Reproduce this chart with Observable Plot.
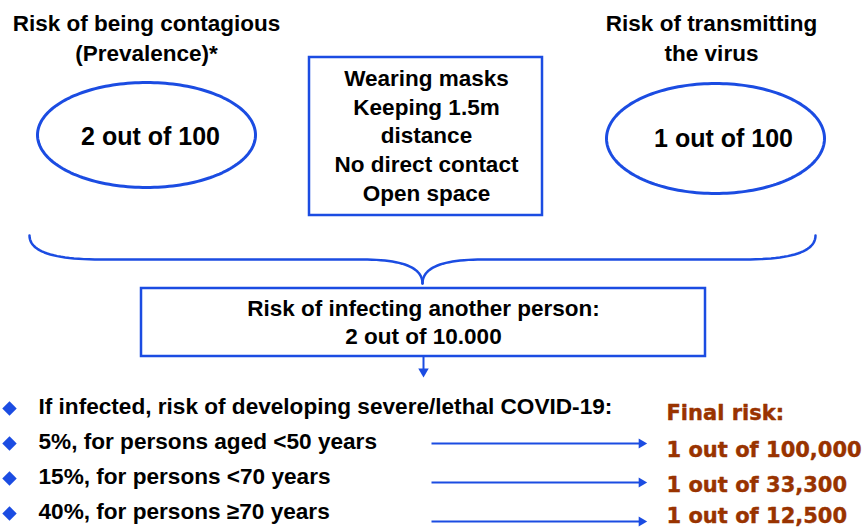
<!DOCTYPE html>
<html>
<head>
<meta charset="utf-8">
<script src="https://cdn.jsdelivr.net/npm/d3@7"></script>
<script src="https://cdn.jsdelivr.net/npm/@observablehq/plot@0.6"></script>
<style>
  html, body { margin: 0; padding: 0; background: #fff; }
  #chart svg { display: block; }
</style>
</head>
<body>
<div id="chart"></div>
<script>
// ---- content (text & values) ----
const titleLeft = ["Risk of being contagious", "(Prevalence)*"];
const titleRight = ["Risk of transmitting", "the virus"];
const prevalence = "2 out of 100";
const transmission = "1 out of 100";
const measures = ["Wearing masks", "Keeping 1.5m", "distance", "No direct contact", "Open space"];
const infecting = ["Risk of infecting another person:", "2 out of 10.000"];
const severity = [
  "If infected, risk of developing severe/lethal COVID-19:",
  "5%, for persons aged <50 years",
  "15%, for persons <70 years",
  "40%, for persons ≥70 years"
];
const finalLabel = "Final risk:";
const finalRisk = ["1 out of 100,000", "1 out of 33,300", "1 out of 12,500"];

// ---- layout ----
const W = 866, H = 528;
const BLUE = "#1b4ce2";
const BROWN = "#993300";
const SANS = "Liberation Sans, Arial, Helvetica, sans-serif";

function ellipse(cx, cy, rx, ry) {
  return d3.range(0, 360, 2).map(a => {
    const t = a * Math.PI / 180;
    return {x: cx + rx * Math.cos(t), y: cy + ry * Math.sin(t)};
  });
}
function quad(p0, c, p1, n = 24) {
  return d3.range(n + 1).map(i => {
    const t = i / n, u = 1 - t;
    return {x: u*u*p0[0] + 2*u*t*c[0] + t*t*p1[0], y: u*u*p0[1] + 2*u*t*c[1] + t*t*p1[1]};
  });
}
const braceLeft = [
  ...quad([29, 235], [29, 259], [100, 259]),
  ...quad([362, 259], [422, 259], [422, 283])
];
const braceRight = braceLeft.map(p => ({x: 844 - p.x, y: p.y}));

const centerText = [
  ...titleLeft.map((t, i) => ({t, x: 146, y: 23 + i * 30})),
  ...titleRight.map((t, i) => ({t, x: 711, y: 23 + i * 30})),
  ...measures.map((t, i) => ({t, x: 426, y: 78 + i * 28.8})),
  ...infecting.map((t, i) => ({t, x: 423, y: 308 + i * 28}))
];
const bigText = [
  {t: prevalence, x: 150, y: 136},
  {t: transmission, x: 723, y: 138}
];
const severityRows = severity.map((t, i) => ({t, x: 38, y: 406 + i * 35, bx: 9, by: 408 + i * 35}));
const finalRows = [finalLabel, ...finalRisk].map((t, i) => ({t, x: 666, y: [413, 450, 485, 516][i]}));
const arrowRows = finalRisk.map((t, i) => ({x1: 431, x2: 641, y: [443, 482, 521][i]}));

const plot = Plot.plot({
  width: W, height: H,
  margin: 0,
  x: {domain: [0, W], axis: null},
  y: {domain: [0, H], reverse: true, axis: null},
  style: {background: "#fff", overflow: "visible"},
  marks: [
    // ellipses
    Plot.line(ellipse(146, 134.5, 109, 52.5), {x: "x", y: "y", curve: "linear-closed", stroke: BLUE, strokeWidth: 3}),
    Plot.line(ellipse(715, 138, 109, 55), {x: "x", y: "y", curve: "linear-closed", stroke: BLUE, strokeWidth: 3}),
    // boxes
    Plot.rect([{x1: 309, x2: 542, y1: 57, y2: 215}], {x1: "x1", x2: "x2", y1: "y1", y2: "y2", fill: "none", stroke: BLUE, strokeWidth: 2.5}),
    Plot.rect([{x1: 141, x2: 705, y1: 288, y2: 356}], {x1: "x1", x2: "x2", y1: "y1", y2: "y2", fill: "none", stroke: BLUE, strokeWidth: 2.5}),
    // brace
    Plot.line(braceLeft, {x: "x", y: "y", stroke: BLUE, strokeWidth: 2.5}),
    Plot.line(braceRight, {x: "x", y: "y", stroke: BLUE, strokeWidth: 2.5}),
    // down arrow
    Plot.link([{x: 423, y1: 356, y2: 370}], {x1: "x", x2: "x", y1: "y1", y2: "y2", stroke: BLUE, strokeWidth: 2}),
    Plot.dot([{x: 423, y: 371}], {x: "x", y: "y", symbol: "triangle2", r: 5, rotate: 180, fill: BLUE, stroke: "none"}),
    // right arrows
    Plot.link(arrowRows, {x1: "x1", x2: "x2", y1: "y", y2: "y", stroke: BLUE, strokeWidth: 2}),
    Plot.dot(arrowRows, {x: d => d.x2, y: "y", symbol: "triangle2", r: 4.7, rotate: 90, fill: BLUE, stroke: "none"}),
    // bullets
    Plot.dot(severityRows, {x: "bx", y: "by", symbol: "diamond2", r: 6.5, fill: BLUE, stroke: "none"}),
    // texts
    Plot.text(centerText, {x: "x", y: "y", text: "t", fontSize: 22.5, fontWeight: "bold", fontFamily: SANS, fill: "#000", textAnchor: "middle"}),
    Plot.text(bigText, {x: "x", y: "y", text: "t", fontSize: 25, fontWeight: "bold", fontFamily: SANS, fill: "#000", textAnchor: "middle"}),
    Plot.text(severityRows, {x: "x", y: "y", text: "t", fontSize: 22.6, fontWeight: "bold", fontFamily: SANS, fill: "#000", textAnchor: "start"}),
    Plot.text(finalRows, {x: "x", y: "y", text: "t", fontSize: 21, fontWeight: "bold", fontFamily: "DejaVu Sans, Verdana, sans-serif", fill: BROWN, stroke: BROWN, strokeWidth: 0.4, textAnchor: "start"})
  ]
});
document.getElementById("chart").appendChild(plot);
</script>
</body>
</html>
